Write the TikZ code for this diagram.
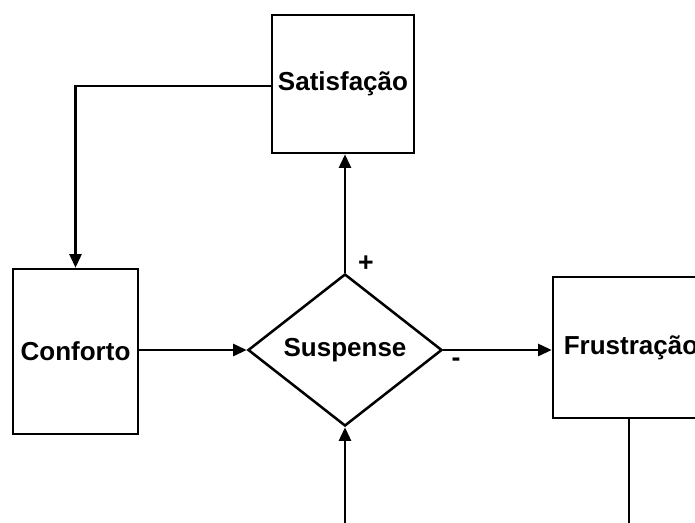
\documentclass[tikz,border=0pt]{standalone}
\usepackage{fontspec}
\setmainfont{Liberation Sans}
\usepackage{tikz}
\usetikzlibrary{positioning,arrows.meta,shapes.geometric}

\begin{document}
\begin{tikzpicture}[
x=0.025cm, y=-0.025cm,
box/.style={draw=black, line width=1.8pt, align=center, font=\fontsize{18.5}{21}\selectfont\bfseries, inner sep=0pt},
decision/.style={box, diamond, minimum width=4.85cm, minimum height=3.8cm},
sign/.style={font=\fontsize{19}{21}\selectfont\bfseries, inner sep=0pt},
arrow/.style={-{Triangle[length=3.4mm, width=3mm]}, line width=1.8pt, black}
]
\useasboundingbox (0,0) rectangle (695,522);
\clip (0,0) rectangle (695,522);
\node[box, minimum width=3.55cm, minimum height=3.45cm] (satis) at (343,84) {Satisfação};
\node[box, minimum width=3.125cm, minimum height=4.125cm] (conf) at (75.5,351.5) {Conforto};
\node[decision] (susp) at (345,350) {Suspense};
\node[box, minimum width=3.9cm, minimum height=3.525cm] (frust) at (631,347.5) {Frustração};
\node[sign] (plus) at (366,264) {+};
\node[sign] (minus) at (456,362) {-};
\coordinate (loop) at (629,560);
\draw[arrow] (satis.west |- 0,86) -| (conf.north);
\draw[arrow] (conf.east |- susp.west) -- (susp.west);
\draw[arrow] (susp.east) -- (frust.west |- susp.east);
\draw[arrow] (susp.north) -- (susp.north |- satis.south);
\draw[arrow] (frust.south -| loop) -- (loop) -| (susp.south);
\end{tikzpicture}
\end{document}
